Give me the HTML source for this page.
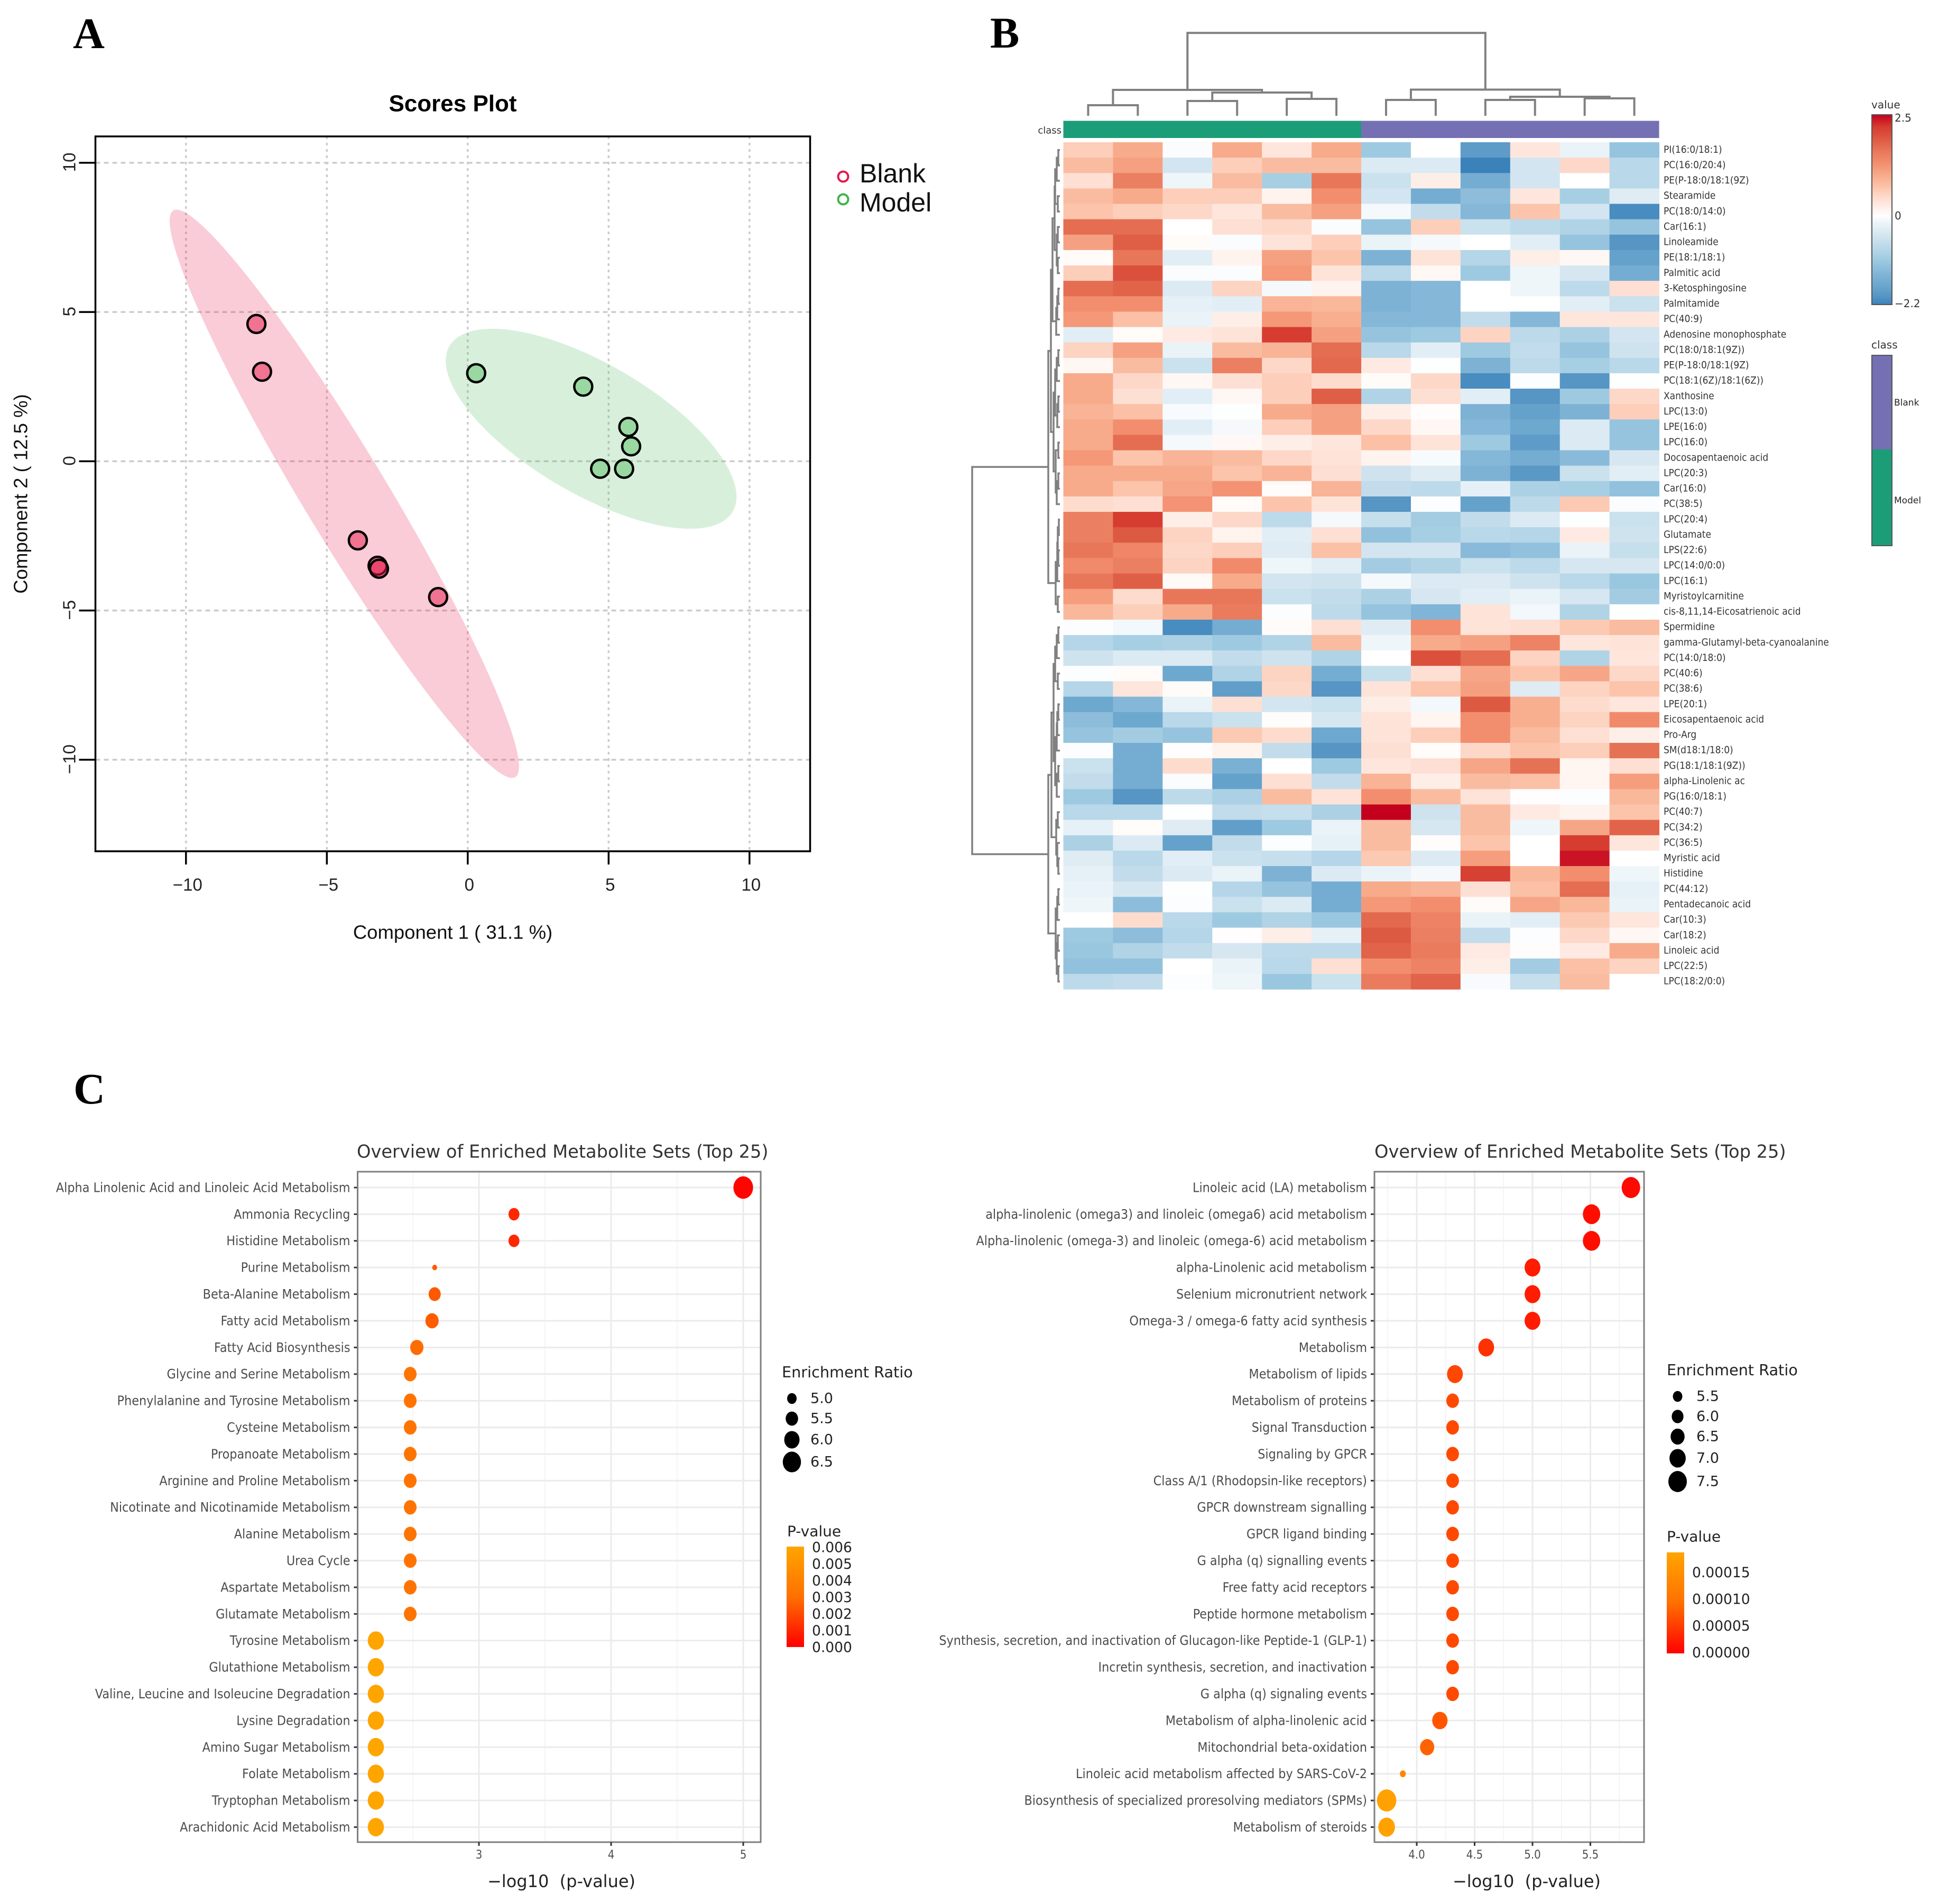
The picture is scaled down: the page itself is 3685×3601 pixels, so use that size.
<!DOCTYPE html>
<html lang="en">
<head>
<meta charset="utf-8">
<title>Metabolomics figure: scores plot, heatmap and enrichment overview</title>
<style>
html,body{margin:0;padding:0;background:#fff}
svg{display:block}
text{font-family:"DejaVu Sans","Liberation Sans",sans-serif}
.lib text,text.lib{font-family:"Liberation Sans",sans-serif}
.panel-letter{font-family:"Liberation Serif",serif;font-weight:bold;font-size:83px;fill:#000}
</style>
</head>
<body>
<svg id="fig" xmlns="http://www.w3.org/2000/svg" width="3685" height="3601" viewBox="0 0 3685 3601">
<rect x="0" y="0" width="3685" height="3601" fill="#fff"/>
<text class="panel-letter" x="138" y="91">A</text>
<text class="panel-letter" x="1873" y="90">B</text>
<text class="panel-letter" x="139" y="2087">C</text>
<defs>
<linearGradient id="gradValue" x1="0" y1="0" x2="0" y2="1"></linearGradient>
<linearGradient id="gradP" x1="0" y1="0" x2="0" y2="1"><stop offset="0" stop-color="#ffa500"/><stop offset="0.5" stop-color="#ff7000"/><stop offset="1" stop-color="#ff0000"/></linearGradient>
</defs>
<g id="scores" class="lib"></g>
<g id="heat"></g>
<g id="dotLeft"></g>
<g id="dotRight"></g>
</svg>
<script>
/* ---------- Panel A data ---------- */
const blankX = [-7.5, -7.3, -3.9, -3.2, -3.15, -1.05];
const blankY = [4.6, 3.0, -2.65, -3.5, -3.6, -4.55];
const modelX = [0.3, 4.1, 5.7, 5.8, 4.7, 5.55];
const modelY = [2.95, 2.5, 1.15, 0.5, -0.25, -0.25];
const scoreTicks = [-10, -5, 0, 5, 10];
/* centre x, centre y, x half-range, y half-range, correlation */
const blankEllipse = [-4.38, -1.09, 6.2, 9.52, -0.96];
const modelEllipse = [4.38, 1.09, 5.16, 3.35, -0.68];

/* ---------- Panel B data ---------- */
const rowLabels = ["PI(16:0/18:1)","PC(16:0/20:4)","PE(P-18:0/18:1(9Z)","Stearamide","PC(18:0/14:0)","Car(16:1)","Linoleamide","PE(18:1/18:1)","Palmitic acid","3-Ketosphingosine","Palmitamide","PC(40:9)","Adenosine monophosphate","PC(18:0/18:1(9Z))","PE(P-18:0/18:1(9Z)","PC(18:1(6Z)/18:1(6Z))","Xanthosine","LPC(13:0)","LPE(16:0)","LPC(16:0)","Docosapentaenoic acid","LPC(20:3)","Car(16:0)","PC(38:5)","LPC(20:4)","Glutamate","LPS(22:6)","LPC(14:0/0:0)","LPC(16:1)","Myristoylcarnitine","cis-8,11,14-Eicosatrienoic acid","Spermidine","gamma-Glutamyl-beta-cyanoalanine","PC(14:0/18:0)","PC(40:6)","PC(38:6)","LPE(20:1)","Eicosapentaenoic acid","Pro-Arg","SM(d18:1/18:0)","PG(18:1/18:1(9Z))","alpha-Linolenic ac","PG(16:0/18:1)","PC(40:7)","PC(34:2)","PC(36:5)","Myristic acid","Histidine","PC(44:12)","Pentadecanoic acid","Car(10:3)","Car(18:2)","Linoleic acid","LPC(22:5)","LPC(18:2/0:0)"];
const heatValues = [
[.6,1.0,-.05,1.0,.3,1.0,-1.1,0,-1.9,.3,-.2,-1.2],
[.8,1.1,-.5,.6,.8,.8,-.4,-.4,-2.2,-.5,.5,-.8],
[.4,1.5,-.15,.8,-1.0,1.6,-.6,.2,-1.6,-.5,0,-.8],
[.8,1.0,.6,.6,.15,1.3,-.5,-1.6,-1.3,.3,-1.0,-.35],
[.7,.6,.5,.3,.8,1.1,-.1,-.7,-1.4,.7,-.5,-2.1],
[1.7,1.7,0,.4,.5,-.05,-1.2,.6,-.6,-.75,-.9,-1.2],
[1.1,1.85,.05,-.05,.35,.6,-.2,-.1,0,-.3,-1.2,-2.0],
[.05,1.6,-.3,.15,1.1,.7,-1.5,.35,-.85,.2,.1,-1.8],
[.6,2.0,-.05,-.05,1.2,.35,-.8,.1,-1.1,-.15,-.45,-1.6],
[1.7,1.8,-.4,.55,-.1,.15,-1.5,-1.4,0,-.15,-.75,.4],
[1.3,1.3,-.25,-.3,.9,.85,-1.5,-1.4,0,0,-.3,-.6],
[1.2,.75,-.2,.2,1.2,.95,-1.4,-1.4,-.7,-1.4,.3,.3],
[-.3,.05,.25,.35,2.2,1.1,-1.2,-1.1,.55,-.75,-.95,-.5],
[.55,1.1,-.2,.8,.9,1.7,-.8,-.3,-1.1,-.7,-1.2,-.55],
[.1,.8,-.6,1.5,.5,1.75,.25,-.02,-1.5,-.75,-1.0,-.8],
[1.0,.5,.1,.4,.6,.45,.05,.5,-2.1,-.03,-2,-.02],
[1.0,.4,-.3,.1,.6,1.85,-.9,.4,-.3,-2,-1.1,.5],
[.9,.75,-.07,-.02,1.0,1.1,.2,.03,-1.5,-1.8,-1.5,.6],
[1.0,1.3,-.3,-.1,.6,1.1,.5,.1,-1.4,-1.7,-.4,-1.2],
[1.0,1.7,-.1,.08,.2,.3,.75,.35,-1.1,-1.9,-.4,-1.2],
[1.2,.7,.9,.8,.5,.35,.15,-.07,-1.4,-1.6,-1.35,-.45],
[1.0,1.0,1.0,.7,.9,.4,-.55,-.35,-1.5,-1.95,-.6,-.3],
[1.0,.7,1.05,1.25,.05,.9,-.7,-.75,-.25,-.95,-1,-1.25],
[.45,.4,1.25,.05,.7,.35,-2.0,-.03,-1.8,-.75,.65,-.05],
[1.5,2.2,.2,.5,-.75,-.1,-.65,-1.05,-.7,-.4,-.02,-.6],
[1.5,1.9,.55,.15,-.3,.4,-1.25,-1,-.8,-.85,.25,-.55],
[1.6,1.4,.5,.6,-.35,.75,-.5,-.5,-1.35,-1.25,-.2,-.65],
[1.35,1.5,.55,1.35,-.15,-.3,-1.05,-.9,-.6,-.75,-.45,-.45],
[1.6,1.85,.07,1.0,-.5,-.55,-.1,-.4,-.4,-.55,-.8,-1.15],
[1.15,.45,1.6,1.6,-.6,-.7,-.95,-.45,-.3,-.2,-.45,-1.05],
[.85,.6,1.0,1.55,-.04,-.75,-1.2,-1.45,.35,-.12,-.9,-.02],
[-.03,-.12,-2.1,-1.6,.05,.4,-.35,1.3,.35,.4,.65,.8],
[-.85,-1,-.95,-1.1,-.9,.8,-.15,1.0,1.1,1.45,.3,.35],
[-.55,-.4,-.4,-.7,-.55,-.9,0,2.0,1.7,.55,-.9,.3],
[-.03,.05,-1.7,-.9,.55,-1.6,-.65,.4,1.05,.7,1.05,.5],
[-.85,.3,.05,-1.85,.5,-2,.35,.7,1.1,-.35,.55,.7],
[-1.7,-1.4,-.2,.4,-.5,-.6,.2,-.12,1.9,.95,.45,.3],
[-1.3,-1.7,-.8,-.6,.03,-.45,.35,.12,1.3,.95,.55,1.35],
[-1.2,-1.05,-1.2,.65,.45,-1.7,.35,.6,1.3,.8,.4,.2],
[-.03,-1.6,.02,.15,-.7,-2,.4,.04,.5,.7,.6,1.65],
[-.6,-1.6,.45,-1.55,0,-1.1,.3,.4,1.05,1.65,.12,.4],
[-.7,-1.6,-.05,-1.8,.4,-.7,.9,.2,.8,.75,.12,1.15],
[-1.1,-2.0,-.75,-.95,.8,.35,1.3,.8,.35,.02,-.03,.85],
[-.8,-.8,-.02,-.7,-.65,-.95,2.5,-.55,.8,.25,.15,.7],
[-.25,.04,-.35,-1.85,-1.1,-.2,.8,-.45,.8,-.15,1.05,1.8],
[-.95,-.4,-1.8,-.7,-.03,-.25,.8,.03,.7,0,2.2,.3],
[-.35,-.8,-.3,-.6,-.65,-.85,.65,-.4,1.15,0,2.4,0],
[-.25,-.7,-.4,-.2,-1.5,-.4,-.2,-.1,2.15,.85,1.3,-.15],
[-.2,-.45,-.02,-.85,-1.2,-1.6,1.0,.9,.4,.75,1.7,-.25],
[-.15,-1.3,-.03,-.6,-.4,-1.6,1.2,1.3,.05,1.05,.85,-.2],
[0,.45,-.8,-1.1,-.9,-1.15,1.75,1.45,-.2,-.3,.65,.3],
[-1.1,-1.3,-.85,.02,.2,-.25,1.9,1.5,-.7,-.03,.5,.1],
[-1.15,-.9,-.7,-.45,-.75,-.75,1.8,1.55,.25,.03,.25,1.0],
[-1.25,-1.25,0,-.2,-.8,.4,1.3,1.45,.2,-1.05,.75,.55],
[-.75,-.7,-.04,-.15,-1.15,-.6,1.55,1.8,-.07,-.65,.8,0]
];
/* dendrograms: [height, child, child]; plain numbers are leaf indices */
const colTree = [156.7,
  [49,[20,0,1],[44,[28,2,3],[32,4,5]]],
  [49.5,[30,6,7],[36,[30,8,9],[33,10,11]]]];
const rowTreeA = [14,[10,[9,[6,[3,0,1],2],[4,3,4]],[6,[4,5,6],[4,7,8]]],[7,[5,[3,9,10],11],12]];
const rowTreeB = [12,[9,[6,[3,13,14],15],[5,[3,16,17],18]],[8,[3,19,20],[6,[3,21,22],23]]];
const rowTreeC = [8,[5,[4,[2,24,25],[3,26,27]],28],[4,29,30]];
const rowTreeD = [12,[9,[6,[3,31,32],33],[4,34,35]],[9,[6,[5,[3,36,37],38],39],[6,[3,40,41],42]]];
const rowTreeE = [7,[4,43,44],[5,45,[3,46,47]]];
const rowTreeF = [8,[5,[3,48,49],50],[6,[4,51,52],[3,53,54]]];
const rowTree = [166,[22,[17,rowTreeA,rowTreeB],rowTreeC],[22,[16,rowTreeD,rowTreeE],rowTreeF]];
const heatStops = [-2.2,-2,-1.7,-1.4,-1.1,-.8,-.5,-.2,0,.3,.5,.7,1,1.3,1.6,1.9,2.2,2.5];
const heatColors = ['#3b82ba','#5695c4','#6da8cf','#85b7d8','#9ecae1','#b9d8e9','#d3e5f0','#eaf3f8','#ffffff','#fee6dd','#fdd8c8','#fcc4ab','#f7ab8b','#f28e6e','#e8775a','#dd5a42','#d63c30','#c4001f'];

/* ---------- Panel C data ---------- */
const leftLabels = ["Alpha Linolenic Acid and Linoleic Acid Metabolism","Ammonia Recycling","Histidine Metabolism","Purine Metabolism","Beta-Alanine Metabolism","Fatty acid Metabolism","Fatty Acid Biosynthesis","Glycine and Serine Metabolism","Phenylalanine and Tyrosine Metabolism","Cysteine Metabolism","Propanoate Metabolism","Arginine and Proline Metabolism","Nicotinate and Nicotinamide Metabolism","Alanine Metabolism","Urea Cycle","Aspartate Metabolism","Glutamate Metabolism","Tyrosine Metabolism","Glutathione Metabolism","Valine, Leucine and Isoleucine Degradation","Lysine Degradation","Amino Sugar Metabolism","Folate Metabolism","Tryptophan Metabolism","Arachidonic Acid Metabolism"];
const leftLogP = [5.0,3.265,3.265,2.665,2.665,2.645,2.53,2.48,2.48,2.48,2.48,2.48,2.48,2.48,2.48,2.48,2.48,2.22,2.22,2.22,2.22,2.22,2.22,2.22,2.22];
const leftRatio = [6.75,5.25,5.25,4.2,5.45,5.65,5.65,5.55,5.55,5.55,5.55,5.55,5.55,5.55,5.55,5.55,5.55,6.15,6.15,6.15,6.15,6.15,6.15,6.15,6.15];
const leftXTicks = [3,4,5];
const leftXMinor = [2.5,3.5,4.5];
const leftRatioTicks = [5.0,5.5,6.0,6.5];
const leftPTicks = [0.006,0.005,0.004,0.003,0.002,0.001,0.000];

const rightLabels = ["Linoleic acid (LA) metabolism","alpha-linolenic (omega3) and linoleic (omega6) acid metabolism","Alpha-linolenic (omega-3) and linoleic (omega-6) acid metabolism","alpha-Linolenic acid metabolism","Selenium micronutrient network","Omega-3 / omega-6 fatty acid synthesis","Metabolism","Metabolism of lipids","Metabolism of proteins","Signal Transduction","Signaling by GPCR","Class A/1 (Rhodopsin-like receptors)","GPCR downstream signalling","GPCR ligand binding","G alpha (q) signalling events","Free fatty acid receptors","Peptide hormone metabolism","Synthesis, secretion, and inactivation of Glucagon-like Peptide-1 (GLP-1)","Incretin synthesis, secretion, and inactivation","G alpha (q) signaling events","Metabolism of alpha-linolenic acid","Mitochondrial beta-oxidation","Linoleic acid metabolism affected by SARS-CoV-2","Biosynthesis of specialized proresolving mediators (SPMs)","Metabolism of steroids"];
const rightLogP = [5.85,5.51,5.51,5.0,5.0,5.0,4.6,4.33,4.31,4.31,4.31,4.31,4.31,4.31,4.31,4.31,4.31,4.31,4.31,4.31,4.2,4.09,3.88,3.74,3.74];
const rightRatio = [7.5,7.25,7.25,6.9,6.9,6.9,6.9,6.9,6.2,6.2,6.2,6.2,6.2,6.2,6.2,6.2,6.2,6.2,6.2,6.2,6.8,6.55,4.7,7.7,7.1];
const rightXTicks = [4.0,4.5,5.0,5.5];
const rightXMinor = [3.75,4.25,4.75,5.25,5.75];
const rightRatioTicks = [5.5,6.0,6.5,7.0,7.5];
const rightPTicks = [0.00015,0.00010,0.00005,0.00000];

/* ---------- helpers ---------- */
const NS = 'http://www.w3.org/2000/svg';
function svgEl(parent, tag, attrs) {
  const e = document.createElementNS(NS, tag);
  for (const k in attrs) e.setAttribute(k, attrs[k]);
  parent.appendChild(e);
  return e;
}
function svgText(parent, str, x, y, size, anchor, fill, sx) {
  const e = svgEl(parent, 'text', {
    transform: 'translate(' + x + ',' + y + ') scale(' + (sx || 1) + ',1)',
    'font-size': size, 'text-anchor': anchor || 'start', fill: fill || '#333',
    'dominant-baseline': 'central'
  });
  e.textContent = str;
  return e;
}
function hex(c) { return [1, 3, 5].map(i => parseInt(c.substr(i, 2), 16)); }
function heatColor(v) {
  const s = heatStops;
  if (v <= s[0]) return heatColors[0];
  for (let i = 1; i < s.length; i++) {
    if (v <= s[i]) {
      const t = (v - s[i - 1]) / (s[i] - s[i - 1]);
      const a = hex(heatColors[i - 1]), b = hex(heatColors[i]);
      return 'rgb(' + a.map((q, j) => Math.round(q + (b[j] - q) * t)).join(',') + ')';
    }
  }
  return heatColors[heatColors.length - 1];
}

/* ---------- Panel A ---------- */
(function () {
  const g = document.getElementById('scores');
  const ax = v => 884.8 + 53.3 * v;
  const ay = v => 872.4 - 56.45 * v;
  const L = 180.5, R = 1532.5, T = 258, B = 1610;

  const title = svgText(g, 'Scores Plot', 856.5, 196, 44, 'middle', '#000');
  title.setAttribute('font-weight', 'bold');
  
  

  scoreTicks.forEach(t => {
    const v = svgEl(g, 'line', {x1: ax(t), x2: ax(t), y1: T, y2: B, stroke: '#cccccc', 'stroke-width': 3.5, 'stroke-dasharray': '5 7'});
    
    
    const h = svgEl(g, 'line', {x1: L, x2: R, y1: ay(t), y2: ay(t), stroke: '#cccccc', 'stroke-width': 3.5, 'stroke-dasharray': '9 7'});
    
    
  });

  function ellipsePts(p) {
    const phi = Math.acos(p[4]);
    const pts = [];
    for (let i = 0; i < 180; i++) {
      const a = i / 180 * 2 * Math.PI;
      pts.push(ax(p[0] + p[2] * Math.cos(a)).toFixed(1) + ',' + ay(p[1] + p[3] * Math.cos(a + phi)).toFixed(1));
    }
    return pts.join(' ');
  }
  const e1 = svgEl(g, 'polygon', {points: ellipsePts(blankEllipse), fill: 'rgba(230,25,75,.22)'});
  
  
  const e2 = svgEl(g, 'polygon', {points: ellipsePts(modelEllipse), fill: 'rgba(60,180,75,.2)'});
  
  

  blankX.forEach((x, i) => {
    const c = svgEl(g, 'circle', {cx: ax(x), cy: ay(blankY[i]), r: 17, fill: 'rgba(230,25,75,.5)', stroke: '#000', 'stroke-width': 4.5});
    
    
  });
  modelX.forEach((x, i) => {
    const c = svgEl(g, 'circle', {cx: ax(x), cy: ay(modelY[i]), r: 17, fill: 'rgba(60,180,75,.4)', stroke: '#000', 'stroke-width': 4.5});
    
    
  });

  const frame = svgEl(g, 'rect', {x: L, y: T, width: R - L, height: B - T, fill: 'none', stroke: '#000', 'stroke-width': 3.5});
  
  

  scoreTicks.forEach(t => {
    const a = svgEl(g, 'line', {x1: ax(t), x2: ax(t), y1: B, y2: B + 25, stroke: '#000', 'stroke-width': 3.5});
    
    
    const b = svgEl(g, 'line', {x1: L - 31, x2: L, y1: ay(t), y2: ay(t), stroke: '#000', 'stroke-width': 3.5});
    
    
    const lab = String(t).replace('-', '\u2212');
    const xl = svgText(g, lab, ax(t) + 3, 1673, 33, 'middle', '#222');
    
    
    const yl = svgEl(g, 'text', {transform: 'translate(131,' + (ay(t) - 1) + ') rotate(-90)', 'font-size': 33, 'text-anchor': 'middle', 'dominant-baseline': 'central', fill: '#222'});
    yl.textContent = lab;
    
    
  });

  const xt = svgText(g, 'Component 1 ( 31.1 %)', 856.5, 1763, 36.5, 'middle', '#111');
  
  
  const yt = svgEl(g, 'text', {transform: 'translate(39,934) rotate(-90)', 'font-size': 36.5, 'text-anchor': 'middle', 'dominant-baseline': 'central', fill: '#111'});
  yt.textContent = 'Component 2 ( 12.5 %)';
  
  

  const m1 = svgEl(g, 'circle', {cx: 1595, cy: 334, r: 9.5, fill: '#fff', stroke: '#e6194b', 'stroke-width': 4});
  
  
  const m2 = svgEl(g, 'circle', {cx: 1595, cy: 377, r: 9.5, fill: '#fff', stroke: '#3cb44b', 'stroke-width': 4});
  
  
  const l1 = svgText(g, 'Blank', 1626, 328, 50, 'start', '#111');
  
  
  const l2 = svgText(g, 'Model', 1626, 383, 50, 'start', '#111');
  
  
})();

/* ---------- Panel B ---------- */
(function () {
  const g = document.getElementById('heat');
  const X0 = 2011.5, Y0 = 269, CW = 93.92, RH = 1602 / 55;
  const colX = j => X0 + CW * j;
  const rowY = i => Y0 + RH * i;

  heatValues.forEach((row, i) => {
    row.forEach((v, j) => {
      const c = svgEl(g, 'rect', {x: colX(j), y: rowY(i), width: CW + .5, height: RH + .5, fill: heatColor(v)});
      
      
    });
  });
  rowLabels.forEach((s, i) => {
    const t = svgText(g, s, 3147, rowY(i) + RH / 2, 18.5, 'start', '#333', .92);
    
    
  });

  const a1 = svgEl(g, 'rect', {x: colX(0), y: 228.5, width: CW * 6, height: 32.5, fill: '#1b9e77'});
  
  
  const a2 = svgEl(g, 'rect', {x: colX(6), y: 228.5, width: CW * 6, height: 32.5, fill: '#7570b3'});
  
  
  const cl = svgText(g, 'class', 2008, 247, 18, 'end', '#333');
  
  

  function walk(node, leafPos, segs) {
    if (typeof node === 'number') return {p: leafPos(node), h: 0};
    const a = walk(node[1], leafPos, segs), b = walk(node[2], leafPos, segs);
    segs.push([a, b, node[0]]);
    return {p: (a.p + b.p) / 2, h: node[0]};
  }
  const colSegs = [];
  walk(colTree, j => colX(j) + CW / 2, colSegs);
  const colBase = 219;
  const colPath = colSegs.map(s => 'M' + s[0].p + ' ' + (colBase - s[0].h) + 'V' + (colBase - s[2]) + 'H' + s[1].p + 'V' + (colBase - s[1].h)).join('');
  const d1 = svgEl(g, 'path', {d: colPath, fill: 'none', stroke: '#808080', 'stroke-width': 4});
  
  

  const rowSegs = [];
  walk(rowTree, i => rowY(i) + RH / 2, rowSegs);
  const rowBase = 2005;
  const rowPath = rowSegs.map(s => 'M' + (rowBase - s[0].h) + ' ' + s[0].p + 'H' + (rowBase - s[2]) + 'V' + s[1].p + 'H' + (rowBase - s[1].h)).join('');
  const d2 = svgEl(g, 'path', {d: rowPath, fill: 'none', stroke: '#808080', 'stroke-width': 3.5});
  
  

  /* colour legend */
  const grad = document.getElementById('gradValue');
  heatStops.forEach((s, i) => {
    svgEl(grad, 'stop', {offset: (2.5 - s) / 4.7, 'stop-color': heatColors[i]});
  });
  Array.from(grad.children).reverse().forEach(n => grad.appendChild(n));
  const vt = svgText(g, 'value', 3540, 198, 20, 'start', '#333');
  
  
  const vb = svgEl(g, 'rect', {x: 3541, y: 217, width: 38, height: 359, fill: 'url(#gradValue)', stroke: '#555', 'stroke-width': 2});
  
  
  const v1 = svgText(g, '2.5', 3584, 223, 20, 'start', '#333');
  
  
  const v2 = svgText(g, '0', 3584, 408, 20, 'start', '#333');
  
  
  const v3 = svgText(g, '\u22122.2', 3584, 574, 20, 'start', '#333');
  
  

  const ct = svgText(g, 'class', 3540, 652, 20, 'start', '#333');
  
  
  const cb = svgEl(g, 'rect', {x: 3541, y: 672, width: 38, height: 178, fill: '#7570b3'});
  
  
  const cm = svgEl(g, 'rect', {x: 3541, y: 850, width: 38, height: 182, fill: '#1b9e77'});
  
  
  const cf = svgEl(g, 'rect', {x: 3541, y: 672, width: 38, height: 360, fill: 'none', stroke: '#555', 'stroke-width': 2});
  
  
  const cl1 = svgText(g, 'Blank', 3583, 762, 17, 'start', '#222');
  
  
  const cl2 = svgText(g, 'Model', 3583, 947, 17, 'start', '#222');
  
  
})();

/* ---------- Panel C ---------- */
const dotStretch = 1.14;
function pColor(t) {
  const c = Math.max(0, Math.min(1, t));
  return 'rgb(255,' + Math.round(165 * Math.pow(c, .6)) + ',0)';
}
function dotPlot(cfg) {
  const g = cfg.group;
  const T = 2216, B = 3484;
  const yOf = i => 2246 + 50.4 * i;

  cfg.minor.forEach(v => {
    const l = svgEl(g, 'line', {x1: cfg.x(v), x2: cfg.x(v), y1: T, y2: B, stroke: '#f2f2f2', 'stroke-width': 1.5});
    
    
  });
  cfg.ticks.forEach(v => {
    const l = svgEl(g, 'line', {x1: cfg.x(v), x2: cfg.x(v), y1: T, y2: B, stroke: '#ebebeb', 'stroke-width': 3});
    
    
  });
  cfg.labels.forEach((s, i) => {
    const l = svgEl(g, 'line', {x1: cfg.L, x2: cfg.R, y1: yOf(i), y2: yOf(i), stroke: '#ebebeb', 'stroke-width': 3});
    
    
    const m = svgEl(g, 'line', {x1: cfg.L - 7, x2: cfg.L, y1: yOf(i), y2: yOf(i), stroke: '#333', 'stroke-width': 3});
    
    
    const t = svgText(g, s, cfg.L - 14, yOf(i), 24.5, 'end', '#4d4d4d', .913);
    
    
  });
  cfg.logP.forEach((v, i) => {
    const rad = cfg.size(cfg.ratio[i]) / 2;
    const c = svgEl(g, 'ellipse', {cx: cfg.x(v), cy: yOf(i), rx: rad, ry: rad * dotStretch, fill: pColor(Math.pow(10, -v) / cfg.pMax)});
    
    
  });
  const frame = svgEl(g, 'rect', {x: cfg.L, y: T, width: cfg.R - cfg.L, height: B - T, fill: 'none', stroke: '#7f7f7f', 'stroke-width': 3});
  
  
  cfg.ticks.forEach(v => {
    const m = svgEl(g, 'line', {x1: cfg.x(v), x2: cfg.x(v), y1: B, y2: B + 7, stroke: '#333', 'stroke-width': 3});
    
    
    const t = svgText(g, cfg.tickFmt(v), cfg.x(v), 3507.5, 22, 'middle', '#4d4d4d', .9);
    
    
  });
  const title = svgText(g, 'Overview of Enriched Metabolite Sets (Top 25)', cfg.titleX, 2178, 34, 'start', '#333', .989);
  
  
  const xt = svgText(g, '\u2212log10\u00a0\u00a0(p-value)', cfg.xTitleX, 3558, 32, 'middle', '#222');
  
  

  /* size legend */
  const st = svgText(g, 'Enrichment Ratio', cfg.legX, cfg.legTitleY, 28.7, 'start', '#222');
  
  
  let ky = cfg.keyY;
  cfg.ratioTicks.forEach((r, i) => {
    const rad = cfg.size(r) / 2;
    const c = svgEl(g, 'ellipse', {cx: cfg.keyX, cy: ky, rx: rad, ry: rad * dotStretch, fill: '#000'});
    
    
    const t = svgText(g, r.toFixed(1), cfg.keyLabelX, ky, 27, 'start', '#222');
    
    
    ky += cfg.keyStep(i);
  });

  /* colour legend */
  const pt = svgText(g, 'P-value', cfg.legPX, cfg.pTitleY, 28, 'start', '#222');
  
  
  const bar = svgEl(g, 'rect', {x: cfg.barX, y: cfg.barT, width: cfg.barW, height: cfg.barB - cfg.barT, fill: 'url(#gradP)'});
  
  
  cfg.pTicks.forEach(p => {
    const t = svgText(g, p.toFixed(cfg.pDigits), cfg.barX + cfg.barW + 15, cfg.pY(p), 26.5, 'start', '#222');
    
    
  });
}
dotPlot({
  group: document.getElementById('dotLeft'), L: 676.5, R: 1439, titleX: 675, xTitleX: 1062,
  x: v => 906 + (v - 3) * 250, size: r => 18 + (r - 5) * 11,
  labels: leftLabels, logP: leftLogP, ratio: leftRatio, ticks: leftXTicks, minor: leftXMinor,
  tickFmt: v => String(v), pMax: 0.006,
  legX: 1479, legTitleY: 2595, keyX: 1498, keyY: 2645, keyLabelX: 1533, keyStep: i => 38 + 2 * i,
  ratioTicks: leftRatioTicks, legPX: 1489, pTitleY: 2896,
  barX: 1488, barW: 33, barT: 2925, barB: 3115, pTicks: leftPTicks, pDigits: 3,
  pY: p => 3116 - p / 0.006 * 189
});
dotPlot({
  group: document.getElementById('dotRight'), L: 2600, R: 3110, titleX: 2600, xTitleX: 2888,
  x: v => 2680 + (v - 4) * 219, size: r => 18 + (r - 5.5) * 8.5,
  labels: rightLabels, logP: rightLogP, ratio: rightRatio, ticks: rightXTicks, minor: rightXMinor,
  tickFmt: v => v.toFixed(1), pMax: 0.00019,
  legX: 3153, legTitleY: 2591, keyX: 3173.5, keyY: 2641, keyLabelX: 3209, keyStep: i => 38 + Math.max(0, i - 1) * 3,
  ratioTicks: rightRatioTicks, legPX: 3153, pTitleY: 2906,
  barX: 3153, barW: 33, barT: 2936, barB: 3127, pTicks: rightPTicks, pDigits: 5,
  pY: p => 3126 - p / 0.00015 * 151.5
});
</script>
</body>
</html>
